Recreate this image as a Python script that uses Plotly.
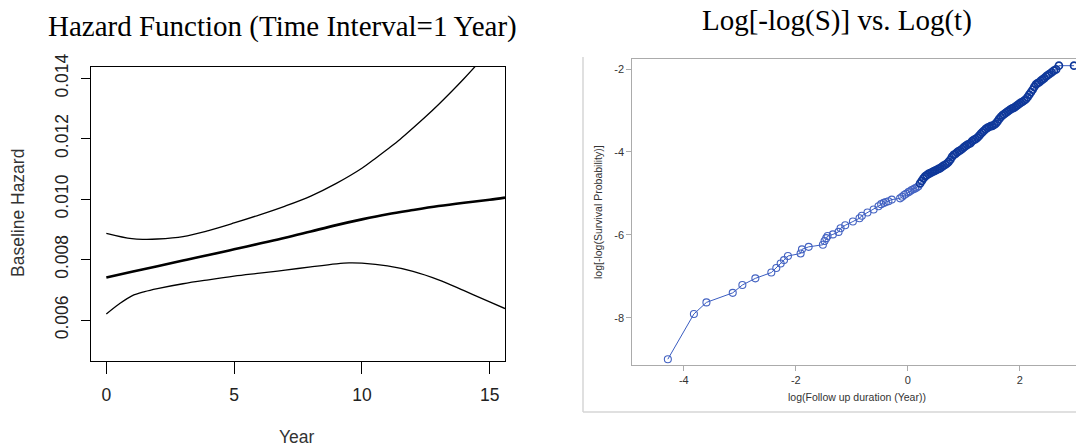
import plotly.graph_objects as go

# ---------------- Left panel: hazard function ----------------
haz_year_mid = [0, 1, 2, 3, 4, 5, 6, 7, 8, 9, 10, 11, 12, 13, 14, 15, 15.6]
haz_mid = [0.00741, 0.00760, 0.00778, 0.00797, 0.00815, 0.00834, 0.00853, 0.00872,
           0.00893, 0.00914, 0.00933, 0.00950, 0.00964, 0.00977, 0.00988, 0.00998, 0.01005]

haz_year_up = [0, 1, 1.5, 2, 3, 4, 5, 6, 7, 8, 9, 10, 10.5, 11, 11.5, 12, 12.5, 13, 13.5, 14, 14.5]
haz_up = [0.00887, 0.00869, 0.00867, 0.00868, 0.00876, 0.00896, 0.00921, 0.00948, 0.00977,
          0.01010, 0.01052, 0.01102, 0.01133, 0.01165, 0.01198, 0.01235, 0.01273, 0.01313,
          0.01355, 0.01399, 0.01445]

haz_year_lo = [0, 0.5, 1, 1.5, 2, 3, 4, 5, 6, 7, 8, 9, 9.5, 10, 11, 12, 13, 14, 15, 15.6]
haz_lo = [0.00620, 0.00653, 0.00680, 0.00694, 0.00704, 0.00720, 0.00733, 0.00745, 0.00755,
          0.00765, 0.00776, 0.00786, 0.00789, 0.00788, 0.00779, 0.00761, 0.00733, 0.00697,
          0.00660, 0.00638]

haz_xticks = [0, 5, 10, 15]
haz_yticks = [0.006, 0.008, 0.010, 0.012, 0.014]

# ---------------- Right panel: log(-log S) vs log t ----------------
logt = [-4.285, -3.82, -3.596, -3.126, -2.954, -2.722, -2.437, -2.348, -2.27, -2.21, -2.14,
        -1.914, -1.89, -1.77, -1.516, -1.486, -1.456, -1.432, -1.337, -1.236, -1.20, -1.117,
        -0.98, -0.862, -0.82, -0.72, -0.61, -0.523, -0.475, -0.43, -0.39, -0.345, -0.285,
        -0.137, -0.10, -0.065, -0.03, 0.012, 0.04, 0.07, 0.10, 0.13, 0.16, 0.19,
        0.22, 0.25, 0.28, 0.31, 0.34, 0.37, 0.40, 0.43, 0.46, 0.49, 0.52, 0.55, 0.58, 0.61,
        0.64, 0.67, 0.70, 0.73, 0.76, 0.79, 0.82, 0.85, 0.88, 0.91, 0.94, 0.97, 1.00, 1.03,
        1.06, 1.09, 1.12, 1.15, 1.18, 1.21, 1.24, 1.27, 1.30, 1.33, 1.36, 1.39, 1.42, 1.45,
        1.48, 1.51, 1.54, 1.57, 1.60, 1.63, 1.66, 1.69, 1.72, 1.75, 1.78, 1.81, 1.84, 1.87,
        1.90, 1.93, 1.96, 1.99, 2.02, 2.05, 2.08, 2.11, 2.14, 2.17, 2.20, 2.23, 2.26, 2.29,
        2.32, 2.35, 2.38, 2.41, 2.44, 2.47, 2.50, 2.53, 2.57, 2.61, 2.65, 2.70, 2.97]
loglogs = [-9.00, -7.91, -7.63, -7.40, -7.21, -7.05, -6.91, -6.80, -6.69, -6.61, -6.51,
           -6.45, -6.35, -6.29, -6.24, -6.15, -6.08, -6.03, -5.99, -5.93, -5.84, -5.77,
           -5.68, -5.60, -5.54, -5.46, -5.39, -5.31, -5.26, -5.23, -5.21, -5.19, -5.15,
           -5.12, -5.08, -5.04, -5.01, -4.97, -4.95, -4.92, -4.90, -4.88, -4.86, -4.83,
           -4.76, -4.70, -4.64, -4.59, -4.56, -4.53, -4.51, -4.49, -4.47, -4.45, -4.43, -4.41,
           -4.39, -4.36, -4.33, -4.31, -4.28, -4.24, -4.19, -4.12, -4.07, -4.05, -4.01, -3.98,
           -3.96, -3.93, -3.89, -3.86, -3.83, -3.81, -3.79, -3.74, -3.71, -3.69, -3.66, -3.62,
           -3.57, -3.53, -3.49, -3.45, -3.42, -3.40, -3.38, -3.37, -3.35, -3.32, -3.27, -3.21,
           -3.16, -3.12, -3.09, -3.06, -3.03, -3.00, -2.97, -2.95, -2.93, -2.90, -2.87, -2.84,
           -2.81, -2.79, -2.76, -2.73, -2.68, -2.62, -2.56, -2.50, -2.43, -2.37, -2.34, -2.32,
           -2.28, -2.25, -2.22, -2.18, -2.15, -2.12, -2.08, -2.04, -2.01, -1.92, -1.92]

ll_xticks = [-4, -2, 0, 2]
ll_xticktext = ["-4", "-2", "0", "2"]
ll_yticks = [-8, -6, -4, -2]
ll_yticktext = ["-8", "-6", "-4", "-2"]

W, H = 1076, 445


def px(x):
    return x / W


def py(y):
    return 1 - y / H


fig = go.Figure()

for xs, ys, w in [(haz_year_up, haz_up, 1.3), (haz_year_lo, haz_lo, 1.3), (haz_year_mid, haz_mid, 2.6)]:
    fig.add_trace(go.Scatter(x=xs, y=ys, mode="lines",
                             line=dict(color="black", width=w, shape="spline", smoothing=1.0),
                             xaxis="x", yaxis="y", showlegend=False, hoverinfo="skip"))

# sparse early points drawn in a lighter blue, the dense band in navy
marker_colors = ["#4463c2" if v < 0.2 else "#0f389a" for v in logt]
marker_widths = [1.1 if v < 0.2 else 1.7 for v in logt]
fig.add_trace(go.Scatter(x=logt, y=loglogs, mode="lines+markers",
                         line=dict(color="#3a5cc0", width=1),
                         marker=dict(symbol="circle-open", size=7, color=marker_colors,
                                     line=dict(width=marker_widths)),
                         xaxis="x2", yaxis="y2", showlegend=False))

tickfont_l = dict(family="Liberation Sans, Arial", size=17.5, color="#222")
fig.update_layout(
    width=W, height=H, margin=dict(l=0, r=0, t=0, b=0, autoexpand=False),
    paper_bgcolor="white", plot_bgcolor="white",
    xaxis=dict(domain=[px(91), px(505)], range=[-0.6, 15.6], tickvals=haz_xticks, automargin=False,
               showgrid=False, zeroline=False, showline=True, linecolor="black", linewidth=1,
               mirror=True, ticks="outside", ticklen=12, tickcolor="black", tickwidth=1,
               tickfont=tickfont_l, ticklabelstandoff=6, anchor="y"),
    yaxis=dict(domain=[py(361), py(66.7)], range=[0.004645, 0.01438], tickvals=haz_yticks, automargin=False,
               tickformat=".3f", tickangle=-90,
               showgrid=False, zeroline=False, showline=True, linecolor="black", linewidth=1,
               mirror=True, ticks="outside", ticklen=9, tickcolor="black", tickwidth=1,
               tickfont=tickfont_l, ticklabelstandoff=6, anchor="x"),
    xaxis2=dict(domain=[px(632.3), 1.0], range=[-4.92, 3.005], tickvals=ll_xticks, ticktext=ll_xticktext,
                automargin=False,
                showgrid=False, zeroline=False, showline=True, linecolor="#ababab", linewidth=1,
                mirror=True, ticks="outside", ticklen=5, tickcolor="#ababab",
                tickfont=dict(family="Liberation Sans, Arial", size=11, color="#333"), anchor="y2"),
    yaxis2=dict(domain=[py(365), py(59.3)], range=[-9.14, -1.766], tickvals=ll_yticks, ticktext=ll_yticktext,
                automargin=False,
                showgrid=False, zeroline=False, showline=True, linecolor="#ababab", linewidth=1,
                ticks="outside", ticklen=5, tickcolor="#ababab",
                tickfont=dict(family="Liberation Sans, Arial", size=11, color="#333"), anchor="x2"),
)

ann = [
    dict(text="Hazard Function (Time Interval=1 Year)", x=px(282.5), y=py(27),
         font=dict(family="Liberation Serif, Times New Roman", size=29, color="black")),
    dict(text="Log[-log(S)] vs. Log(t)", x=px(836.5), y=py(21),
         font=dict(family="Liberation Serif, Times New Roman", size=29, color="black")),
    dict(text="Baseline Hazard", x=px(18), y=py(213), textangle=-90,
         font=dict(family="Liberation Sans, Arial", size=17.5, color="#333")),
    dict(text="Year", x=px(297), y=py(437),
         font=dict(family="Liberation Sans, Arial", size=17.5, color="#333")),
    dict(text="log(Follow up duration (Year))", x=px(857), y=py(397),
         font=dict(family="Liberation Sans, Arial", size=10.5, color="#333")),
    dict(text="log[-log(Survival Probability)]", x=px(598), y=py(212), textangle=-90,
         font=dict(family="Liberation Sans, Arial", size=10.5, color="#333")),
]
for a in ann:
    fig.add_annotation(xref="paper", yref="paper", showarrow=False, xanchor="center", yanchor="middle", **a)

# light frame around the right-hand image
fig.add_shape(type="line", xref="paper", yref="paper", x0=px(583), x1=px(583), y0=py(57), y1=py(412),
              line=dict(color="#d6d6d6", width=1.5))
fig.add_shape(type="line", xref="paper", yref="paper", x0=px(583), x1=1.0, y0=py(412), y1=py(412),
              line=dict(color="#d6d6d6", width=1.5))

fig.write_html("out.html", config={"displayModeBar": False},
               post_script="document.body.style.margin='0';document.body.style.overflow='hidden';")
